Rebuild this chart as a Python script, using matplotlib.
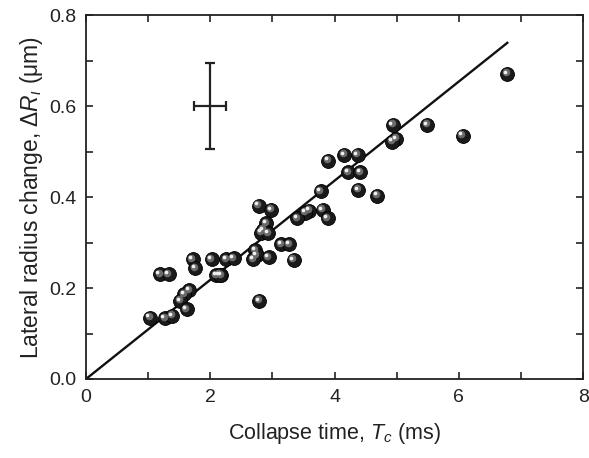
import matplotlib
matplotlib.use("Agg")
import matplotlib.pyplot as plt
import matplotlib.transforms as mtransforms
from matplotlib.ticker import MultipleLocator
import numpy as np

plt.rcParams['font.family'] = ['Liberation Sans', 'DejaVu Sans']
plt.rcParams['mathtext.fontset'] = 'custom'
plt.rcParams['mathtext.rm'] = 'Liberation Sans'
plt.rcParams['mathtext.it'] = 'Liberation Sans:italic'

# Data: collapse time (ms) and lateral radius change (um)
collapse_time = [6.78, 4.94, 5.49, 6.06, 4.99, 4.93, 4.16, 4.37, 3.90, 4.22,
                 4.41, 4.38, 4.69, 3.78, 2.78, 2.98, 3.81, 3.59, 3.53, 3.89,
                 3.40, 2.90, 2.85, 2.82, 2.93, 3.14, 3.27, 2.72, 2.75, 2.94,
                 2.69, 3.34, 1.72, 2.02, 2.26, 2.38, 1.76, 1.19, 1.33, 2.10,
                 2.18, 1.66, 1.58, 1.52, 1.62, 2.79, 1.03, 1.27, 1.39, 2.15]
radius_change = [0.671, 0.559, 0.559, 0.535, 0.528, 0.522, 0.493, 0.493, 0.480, 0.455,
                 0.455, 0.416, 0.403, 0.413, 0.381, 0.372, 0.372, 0.370, 0.366, 0.354,
                 0.353, 0.343, 0.328, 0.322, 0.320, 0.297, 0.297, 0.283, 0.272, 0.268,
                 0.263, 0.262, 0.264, 0.264, 0.264, 0.265, 0.244, 0.230, 0.230, 0.228,
                 0.228, 0.195, 0.186, 0.172, 0.153, 0.172, 0.135, 0.134, 0.139, 0.229]

fit_x = [0.0, 6.78]
fit_slope = 0.109

err_x, err_y = [2.0], [0.600]
err_dx, err_dy = [0.26], [0.095]

fig = plt.figure(figsize=(5.89, 4.58), dpi=100)
ax = fig.add_axes([0.146, 0.1725, 0.844, 0.7945])

fx = np.array(fit_x)
ax.plot(fx, fit_slope * fx, color='#111111', lw=1.7, zorder=2)

ax.errorbar(err_x, err_y, xerr=err_dx, yerr=err_dy, fmt='none', ecolor='#222222',
            elinewidth=1.6, capsize=3.5, capthick=1.6, zorder=2)

# shaded spheres
ax.scatter(collapse_time, radius_change, s=100, color='#1a1a1a', edgecolors='#000000',
           linewidths=0.6, zorder=3)
off1 = mtransforms.offset_copy(ax.transData, fig=fig, x=-1.0, y=1.0, units='points')
ax.scatter(collapse_time, radius_change, s=30, color='#6a6a6a', linewidths=0,
           transform=off1, zorder=4)
off2 = mtransforms.offset_copy(ax.transData, fig=fig, x=-1.8, y=1.6, units='points')
ax.scatter(collapse_time, radius_change, s=7, color='#f0f0f0', linewidths=0,
           transform=off2, zorder=5)

ax.set_xlim(0, 8)
ax.set_ylim(0, 0.8)
ax.xaxis.set_major_locator(MultipleLocator(2))
ax.xaxis.set_minor_locator(MultipleLocator(1))
ax.yaxis.set_major_locator(MultipleLocator(0.2))
ax.yaxis.set_minor_locator(MultipleLocator(0.1))
ax.yaxis.set_major_formatter(matplotlib.ticker.FormatStrFormatter('%.1f'))
ax.tick_params(which='both', direction='in', top=True, right=True, length=5,
               width=1.2, labelsize=14, colors='#222222', labelcolor='#222222')
ax.tick_params(axis='x', pad=7)
ax.tick_params(axis='y', pad=7)
for sp in ax.spines.values():
    sp.set_linewidth(1.3)
    sp.set_color('#222222')

ax.set_xlabel('Collapse time, $T_c$ (ms)', fontsize=15.5, color='#222222', labelpad=11)
ax.set_ylabel(r'Lateral radius change, $\Delta R_{\iota}$ ($\mathrm{\mu}$m)', fontsize=16.5,
              color='#222222', labelpad=3)

fig.savefig('out.png', dpi=100)
